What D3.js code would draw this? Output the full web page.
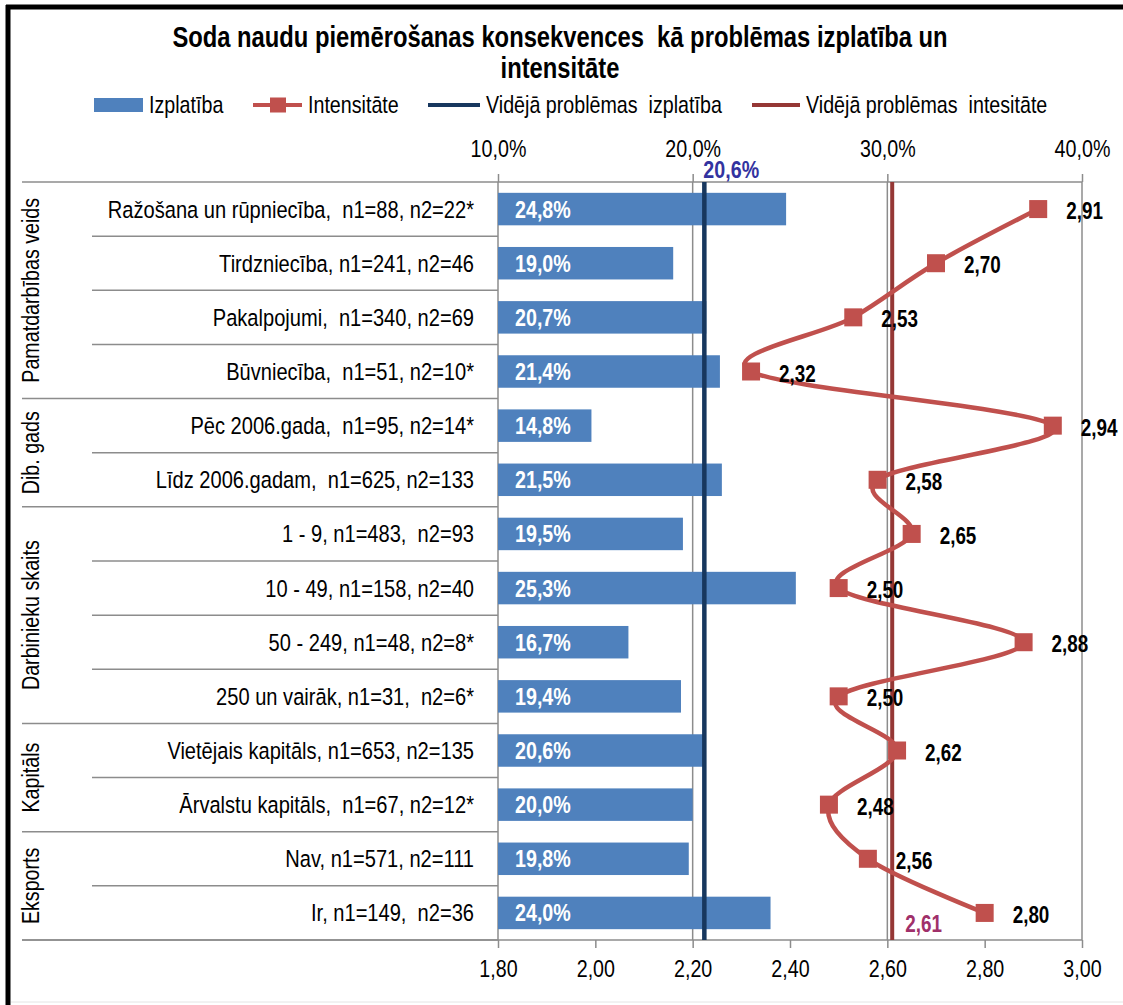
<!DOCTYPE html>
<html>
<head>
<meta charset="utf-8">
<script src="https://cdn.jsdelivr.net/npm/d3@7"></script>
<style>
  html, body { margin: 0; padding: 0; background: #fff; }
  svg { display: block; }
  text { font-family: "Liberation Sans", Arial, sans-serif; }
</style>
</head>
<body>
<script>
const categories = [
  "Ražošana un rūpniecība,  n1=88, n2=22*",
  "Tirdzniecība, n1=241, n2=46",
  "Pakalpojumi,  n1=340, n2=69",
  "Būvniecība,  n1=51, n2=10*",
  "Pēc 2006.gada,  n1=95, n2=14*",
  "Līdz 2006.gadam,  n1=625, n2=133",
  "1 - 9, n1=483,  n2=93",
  "10 - 49, n1=158, n2=40",
  "50 - 249, n1=48, n2=8*",
  "250 un vairāk, n1=31,  n2=6*",
  "Vietējais kapitāls, n1=653, n2=135",
  "Ārvalstu kapitāls,  n1=67, n2=12*",
  "Nav, n1=571, n2=111",
  "Ir, n1=149,  n2=36"
];
const izplatiba = [24.8, 19.0, 20.7, 21.4, 14.8, 21.5, 19.5, 25.3, 16.7, 19.4, 20.6, 20.0, 19.8, 24.0];
const intensitate = [2.91, 2.70, 2.53, 2.32, 2.94, 2.58, 2.65, 2.50, 2.88, 2.50, 2.62, 2.48, 2.56, 2.80];
const groupNames = ["Pamatdarbības veids", "Dib. gads", "Darbinieku skaits", "Kapitāls", "Eksports"];
const groupSizes = [4, 2, 4, 2, 2];
const avgIzplatiba = 20.6;
const avgIntensitate = 2.61;
const pctTicks = [10, 20, 30, 40];
const intTicks = [1.8, 2.0, 2.2, 2.4, 2.6, 2.8, 3.0];
const titleLines = ["Soda naudu piemērošanas konsekvences  kā problēmas izplatība un", "intensitāte"];
const legendLabels = ["Izplatība", "Intensitāte", "Vidējā problēmas  izplatība", "Vidējā problēmas  intesitāte"];

const W = 1123, H = 1005;
const L = 498, R = 1082, T = 182, B = 940;
const NX = 0.82; // narrow glyph factor
const colBar = "#4F81BD", colLine = "#C0504D", colAvgB = "#17375E", colAvgR = "#953735";
const gridCol = "#8C8C8C";
const comma = s => s.replace(".", ",");
const sp = s => s.replace(/  /g, "\u00a0 ");
const tr = (x, y) => `translate(${x},${y}) scale(${NX},1)`;

const svg = d3.select("body").append("svg").attr("width", W).attr("height", H);

// outer frame
svg.append("line").attr("x1", 8).attr("x2", 8).attr("y1", 5).attr("y2", H).attr("stroke", "#000").attr("stroke-width", 5);
svg.append("line").attr("x1", 6).attr("x2", W).attr("y1", 7).attr("y2", 7).attr("stroke", "#000").attr("stroke-width", 5);
svg.append("line").attr("x1", 11).attr("x2", W).attr("y1", 1002).attr("y2", 1002).attr("stroke", "#e4e4e4").attr("stroke-width", 1);

// title
svg.append("g").selectAll("text").data(titleLines).join("text")
  .attr("transform", (d, i) => tr(560, 47 + i * 31))
  .attr("text-anchor", "middle").attr("font-size", 29).attr("font-weight", "bold")
  .text(d => sp(d));

// scales
const xPct = d3.scaleLinear().domain([10, 40]).range([L, R]);
const xInt = d3.scaleLinear().domain([1.8, 3.0]).range([L, R]);
const y = d3.scaleBand().domain(categories).range([T, B]).paddingInner(0.4).paddingOuter(0.2);
const step = y.step();

// legend
const lg = svg.append("g").attr("font-size", 24);
const ly = 105, lb = 113;
lg.append("rect").attr("x", 94).attr("y", ly - 7).attr("width", 49).attr("height", 14).attr("fill", colBar);
lg.append("text").attr("transform", tr(149, lb)).text(sp(legendLabels[0]));
lg.append("line").attr("x1", 253).attr("x2", 302).attr("y1", ly).attr("y2", ly).attr("stroke", colLine).attr("stroke-width", 4);
lg.append("rect").attr("x", 270).attr("y", ly - 7.5).attr("width", 16).attr("height", 15).attr("fill", colLine);
lg.append("text").attr("transform", tr(308, lb)).text(sp(legendLabels[1]));
lg.append("line").attr("x1", 428).attr("x2", 480).attr("y1", ly).attr("y2", ly).attr("stroke", colAvgB).attr("stroke-width", 4);
lg.append("text").attr("transform", tr(486, lb)).text(sp(legendLabels[2]));
lg.append("line").attr("x1", 752).attr("x2", 800).attr("y1", ly).attr("y2", ly).attr("stroke", colAvgR).attr("stroke-width", 4);
lg.append("text").attr("transform", tr(806, lb)).text(sp(legendLabels[3]));

// gridlines from percent axis
svg.append("g").selectAll("line").data(pctTicks.slice(1, -1)).join("line")
  .attr("x1", d => xPct(d)).attr("x2", d => xPct(d)).attr("y1", T).attr("y2", B)
  .attr("stroke", gridCol).attr("stroke-width", 1.5);

// table lines at left
const bounds = [];
let acc = 0;
groupSizes.forEach((n) => {
  for (let k = 1; k < n; k++) bounds.push({ idx: acc + k, group: false });
  acc += n;
  bounds.push({ idx: acc, group: true });
});
const sepY = idx => T + step * idx;
svg.append("g").selectAll("line").data(bounds).join("line")
  .attr("x1", d => d.group ? 22 : 92).attr("x2", L)
  .attr("y1", d => sepY(d.idx)).attr("y2", d => sepY(d.idx))
  .attr("stroke", gridCol).attr("stroke-width", 1.5);
svg.append("line").attr("x1", 22).attr("x2", R).attr("y1", T).attr("y2", T).attr("stroke", gridCol).attr("stroke-width", 1.5);
svg.append("line").attr("x1", R).attr("x2", R).attr("y1", T).attr("y2", B).attr("stroke", gridCol).attr("stroke-width", 1.5);
svg.append("line").attr("x1", L).attr("x2", L).attr("y1", T).attr("y2", B).attr("stroke", gridCol).attr("stroke-width", 1.5);

// group labels
let start = 0;
const groupData = groupNames.map((g, i) => { const d = { name: g, c: T + step * (start + groupSizes[i] / 2) }; start += groupSizes[i]; return d; });
svg.append("g").selectAll("text").data(groupData).join("text")
  .attr("transform", d => `translate(39,${d.c}) rotate(-90) scale(${NX},1)`)
  .attr("text-anchor", "middle").attr("font-size", 24)
  .text(d => d.name);

// category labels
svg.append("g").selectAll("text").data(categories).join("text")
  .attr("transform", d => tr(474, y(d) + y.bandwidth() / 2 + 8.5))
  .attr("text-anchor", "end").attr("font-size", 24.5)
  .text(d => sp(d));

// bars
svg.append("g").selectAll("rect").data(categories).join("rect")
  .attr("x", xPct(10)).attr("y", d => y(d))
  .attr("width", (d, i) => xPct(izplatiba[i]) - xPct(10))
  .attr("height", y.bandwidth()).attr("fill", colBar);
svg.append("g").selectAll("text").data(categories).join("text")
  .attr("transform", d => tr(xPct(10) + 17, y(d) + y.bandwidth() / 2 + 8.5))
  .attr("fill", "#fff").attr("font-weight", "bold").attr("font-size", 24)
  .text((d, i) => comma(izplatiba[i].toFixed(1)) + "%");

// top axis
const topAxis = d3.axisTop(xPct).tickValues(pctTicks).tickSize(8).tickPadding(17.5)
  .tickFormat(d => comma(d.toFixed(1)) + "%");
const gt = svg.append("g").attr("transform", `translate(0,${T})`).call(topAxis);
gt.select(".domain").remove();
gt.selectAll(".tick line").attr("stroke", gridCol).attr("stroke-width", 1.5);
gt.selectAll(".tick text").attr("font-size", 24).attr("fill", "#000").attr("font-family", null)
  .attr("transform", `scale(${NX},1)`);

// bottom axis
const botAxis = d3.axisBottom(xInt).tickValues(intTicks).tickSize(8).tickPadding(11.5)
  .tickFormat(d => comma(d.toFixed(2)));
const gb = svg.append("g").attr("transform", `translate(0,${B})`).call(botAxis);
gb.select(".domain").remove();
gb.selectAll(".tick line").attr("stroke", gridCol).attr("stroke-width", 1.5);
gb.selectAll(".tick text").attr("font-size", 24).attr("fill", "#000").attr("font-family", null)
  .attr("transform", `scale(${NX},1)`);
svg.append("line").attr("x1", 22).attr("x2", R).attr("y1", B).attr("y2", B).attr("stroke", gridCol).attr("stroke-width", 1.5);

// average lines
svg.append("line").attr("x1", xPct(avgIzplatiba)).attr("x2", xPct(avgIzplatiba)).attr("y1", T).attr("y2", B)
  .attr("stroke", colAvgB).attr("stroke-width", 4.5);
svg.append("text").attr("transform", tr(xPct(avgIzplatiba) - 1, T - 4))
  .attr("font-size", 24).attr("font-weight", "bold").attr("fill", "#3333A0")
  .text(comma(avgIzplatiba.toFixed(1)) + "%");
svg.append("line").attr("x1", xInt(avgIntensitate)).attr("x2", xInt(avgIntensitate)).attr("y1", T).attr("y2", B)
  .attr("stroke", colAvgR).attr("stroke-width", 4);
svg.append("text").attr("transform", tr(xInt(avgIntensitate) + 13, B - 8))
  .attr("font-size", 23).attr("font-weight", "bold").attr("fill", "#A0306A")
  .text(comma(avgIntensitate.toFixed(2)));

// intensity line
const pts = categories.map((c, i) => [xInt(intensitate[i]), y(c) + y.bandwidth() / 2]);
svg.append("path").datum(pts)
  .attr("d", d3.line().curve(d3.curveCatmullRom.alpha(0)))
  .attr("fill", "none").attr("stroke", colLine).attr("stroke-width", 4.5);
const ms = 18;
svg.append("g").selectAll("rect").data(pts).join("rect")
  .attr("x", d => d[0] - ms / 2).attr("y", d => d[1] - ms / 2)
  .attr("width", ms).attr("height", ms).attr("fill", colLine);
svg.append("g").selectAll("text").data(pts).join("text")
  .attr("transform", d => tr(d[0] + 28, d[1] + 10))
  .attr("font-size", 23).attr("font-weight", "bold")
  .text((d, i) => comma(intensitate[i].toFixed(2)));
</script>
</body>
</html>
